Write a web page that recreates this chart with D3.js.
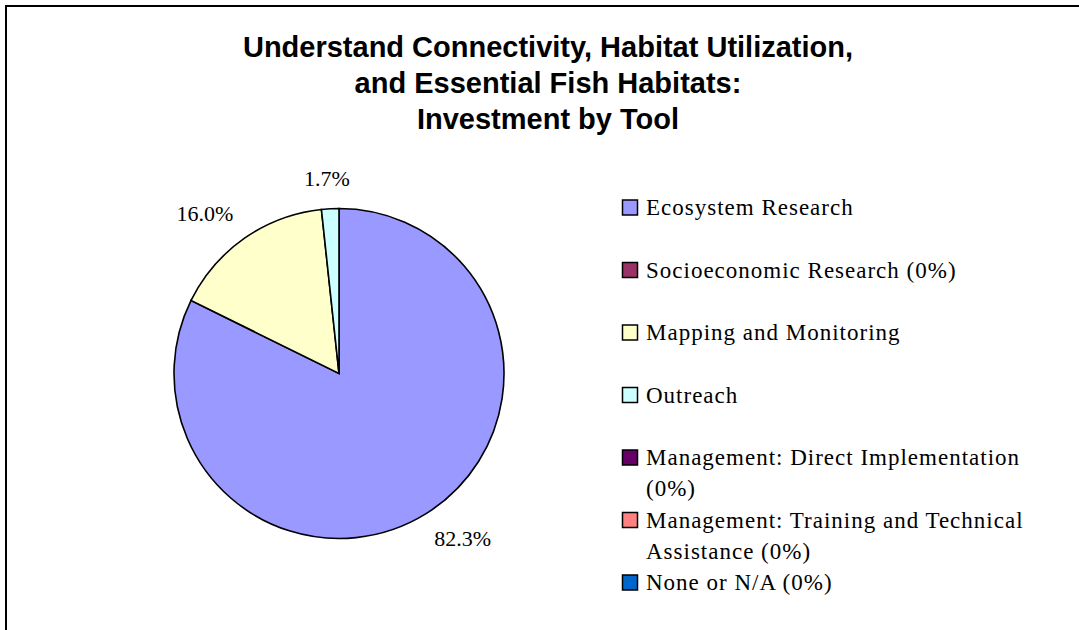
<!DOCTYPE html>
<html>
<head>
<meta charset="utf-8">
<script src="https://cdn.jsdelivr.net/npm/d3@7"></script>
<style>
  body { margin: 0; background: #fff; }
  svg { display: block; }
</style>
</head>
<body>
<script>
// chart data
var titleLines = ["Understand Connectivity, Habitat Utilization,", "and Essential Fish Habitats:", "Investment by Tool"];
var categories = ["Ecosystem Research", "Socioeconomic Research (0%)", "Mapping and Monitoring", "Outreach",
    "Management: Direct Implementation (0%)", "Management: Training and Technical Assistance (0%)", "None or N/A (0%)"];
var shares = [82.3, 0, 16.0, 1.7, 0, 0, 0];
var colors = ["#9999FF", "#993366", "#FFFFCC", "#CCFFFF", "#660066", "#FF8080", "#0066CC"];

var width = 1079, height = 630;
var cx = 339, cy = 373.5, radius = 165;

var svg = d3.select("body").append("svg")
    .attr("width", width)
    .attr("height", height);

// frame (top and left edges only visible)
svg.append("path")
    .attr("d", "M6,630 V6 H1079")
    .attr("fill", "none")
    .attr("stroke", "#000")
    .attr("stroke-width", 2);

// title
svg.append("g").selectAll("text").data(titleLines).enter()
    .append("text")
    .attr("x", 548)
    .attr("y", function (d, i) { return 57 + i * 36; })
    .attr("text-anchor", "middle")
    .attr("font-family", "Liberation Sans, Arial, sans-serif")
    .attr("font-weight", "bold")
    .attr("font-size", 29)
    .text(function (d) { return d; });

var data = categories.map(function (c, i) { return { name: c, value: shares[i], color: colors[i] }; });

var pie = d3.pie()
    .sort(null)
    .value(function (d) { return d.value; });

var arc = d3.arc().innerRadius(0).outerRadius(radius);

var arcs = pie(data).filter(function (d) { return d.data.value > 0; });

var g = svg.append("g").attr("transform", "translate(" + cx + "," + cy + ")");

g.selectAll("path").data(arcs).enter()
    .append("path")
    .attr("d", arc)
    .attr("fill", function (d) { return d.data.color; })
    .attr("stroke", "#000")
    .attr("stroke-width", 1.6)
    .attr("stroke-linejoin", "miter");

// data labels outside the pie
var labelR = radius + 24;
var labels = g.selectAll("text.lbl").data(arcs).enter()
    .append("text")
    .attr("class", "lbl")
    .attr("font-family", "Liberation Serif, Times New Roman, serif")
    .attr("font-size", 22)
    .attr("text-anchor", "middle")
    .text(function (d) { return d3.format(".1f")(d.data.value) + "%"; });

labels.each(function (d) {
    var a = (d.startAngle + d.endAngle) / 2;
    var bb = this.getBBox();
    var s = Math.sin(a), c = Math.cos(a);
    var x = labelR * s + s * bb.width * 0.8;
    var y = -labelR * c - c * bb.height * 0.23 + 7;
    d3.select(this).attr("x", x).attr("y", y);
});

// legend
var legend = svg.append("g").attr("transform", "translate(622,0)");
var rowY = d3.scalePoint().domain(categories).range([207, 582]);

var items = legend.selectAll("g").data(data).enter()
    .append("g")
    .attr("transform", function (d) { return "translate(0," + rowY(d.name) + ")"; });

items.append("rect")
    .attr("x", 0.5)
    .attr("y", -7)
    .attr("width", 15)
    .attr("height", 15)
    .attr("fill", function (d) { return d.color; })
    .attr("stroke", "#000")
    .attr("stroke-width", 1.5);

items.append("text")
    .attr("x", 24)
    .attr("y", 8)
    .attr("font-family", "Liberation Serif, Times New Roman, serif")
    .attr("font-size", 23)
    .attr("letter-spacing", 1)
    .each(function (d) {
        var t = d3.select(this);
        var words = d.name.split(" ");
        var line = [];
        var tspan = t.append("tspan").attr("x", 24).attr("dy", 0);
        var maxW = 400;
        words.forEach(function (w) {
            line.push(w);
            tspan.text(line.join(" "));
            if (tspan.node().getComputedTextLength() > maxW && line.length > 1) {
                line.pop();
                tspan.text(line.join(" "));
                line = [w];
                tspan = t.append("tspan").attr("x", 24).attr("dy", 31).text(w);
            }
        });
    });
</script>
</body>
</html>
